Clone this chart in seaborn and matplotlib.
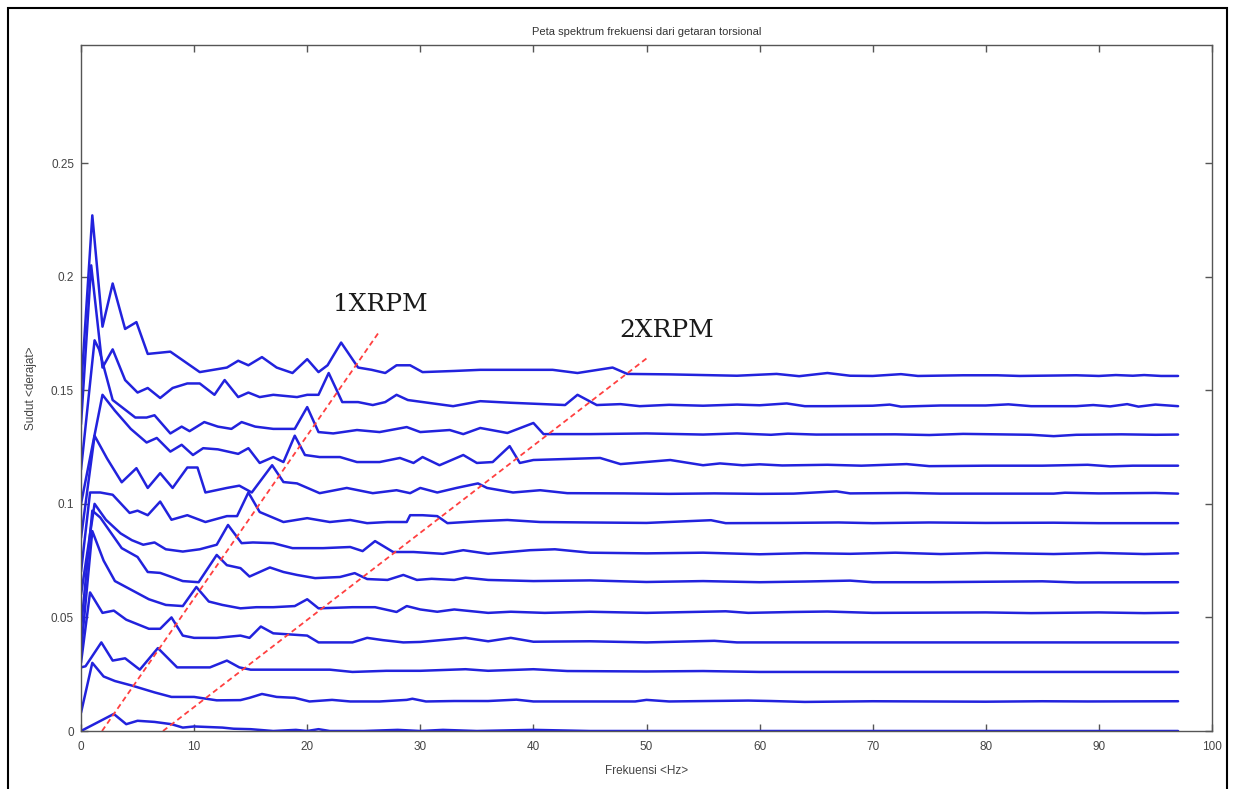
import numpy as np
import pandas as pd
import matplotlib
matplotlib.use("Agg")
import matplotlib.pyplot as plt
from matplotlib.patches import Rectangle
import seaborn as sns

# ---------------- data (frequency in Hz, amplitude in degrees) ----------------
f0 = [0, 2.9, 4.0, 5.0, 6.5, 8.0, 9.0, 10.0, 12.5, 13.5, 15, 17, 19, 20, 21, 22, 25, 28, 30, 32, 35, 40, 45, 97]
a0 = [0, 0.0075, 0.003, 0.0045, 0.004, 0.003, 0.0015, 0.002, 0.0015, 0.001, 0.0008, 0, 0.0005, 0, 0.0008, 0, 0, 0.0005, 0, 0.0005, 0, 0.0005, 0, 0]

f1 = [0, 1.0, 2.0, 3.0, 4.5, 6.5, 8.0, 10.0, 12.0, 14.1, 14.9, 16.0, 17.3, 18.9, 20.2, 22.2, 23.8, 26.4, 28.8, 29.3, 30.5, 33, 36, 38.5, 40, 45, 49, 50, 52, 59, 61, 64, 70, 80, 85, 89, 97]
a1 = [0.008, 0.030, 0.024, 0.022, 0.020, 0.017, 0.015, 0.0150, 0.0135, 0.0136, 0.0146, 0.0163, 0.0150, 0.0146, 0.013, 0.0137, 0.013, 0.013, 0.0137, 0.0142, 0.013, 0.0132, 0.0132, 0.0138, 0.013, 0.013, 0.013, 0.0137, 0.013, 0.0134, 0.0132, 0.0128, 0.0131, 0.0129, 0.0131, 0.013, 0.0131]

f2 = [0, 0.4, 1.8, 2.8, 3.9, 5.2, 6.8, 8.5, 11.4, 12.9, 14.0, 15.0, 22, 24, 27, 30, 34, 36, 40, 43, 50, 55, 60, 97]
a2 = [0.028, 0.0285, 0.039, 0.031, 0.032, 0.027, 0.0365, 0.028, 0.028, 0.031, 0.028, 0.027, 0.027, 0.026, 0.0265, 0.0265, 0.0272, 0.0265, 0.0272, 0.0264, 0.0262, 0.0264, 0.026, 0.026]

f3 = [0, 0.8, 1.9, 2.9, 4.0, 5.0, 6.0, 7.0, 8.0, 9.0, 10.0, 12.0, 14.1, 14.9, 15.9, 17.0, 20.0, 21.0, 24.0, 25.3, 26.7, 28.5, 30, 34, 36, 38, 40, 45, 50, 56, 58, 97]
a3 = [0.030, 0.061, 0.052, 0.053, 0.049, 0.047, 0.045, 0.045, 0.050, 0.042, 0.041, 0.041, 0.042, 0.041, 0.046, 0.043, 0.042, 0.039, 0.039, 0.041, 0.040, 0.039, 0.0392, 0.041, 0.0395, 0.041, 0.0393, 0.0395, 0.039, 0.0397, 0.039, 0.039]

f4 = [0, 1.0, 2.0, 3.0, 4.5, 6.0, 7.5, 9.0, 10.2, 11.3, 12.5, 14.1, 15.5, 17, 18.9, 20.0, 21.0, 24, 26, 27.9, 28.8, 30, 31.5, 33, 36, 38, 41, 45, 50, 57, 59, 63, 66, 70, 80, 84, 90, 94, 97]
a4 = [0.035, 0.088, 0.075, 0.066, 0.062, 0.058, 0.0555, 0.055, 0.0634, 0.057, 0.0555, 0.054, 0.0545, 0.0545, 0.055, 0.058, 0.054, 0.0545, 0.0545, 0.0524, 0.055, 0.0535, 0.0525, 0.0535, 0.052, 0.0525, 0.052, 0.0525, 0.052, 0.0527, 0.052, 0.0524, 0.0526, 0.052, 0.0522, 0.0519, 0.0522, 0.0519, 0.0521]

f5 = [0, 1.0, 1.7, 3.6, 5.0, 5.9, 7.0, 7.9, 9.0, 10.4, 12.0, 12.9, 14.1, 14.9, 16.7, 17.9, 19.1, 20.7, 22.9, 24.2, 25.3, 27.1, 28.5, 29.7, 31, 33, 34, 36, 40, 45, 50, 55, 60, 64, 68, 70, 75, 85, 88, 97]
a5 = [0.045, 0.097, 0.094, 0.0805, 0.0766, 0.070, 0.0696, 0.068, 0.066, 0.0655, 0.0775, 0.073, 0.0717, 0.068, 0.072, 0.070, 0.0687, 0.0673, 0.0678, 0.0695, 0.0669, 0.0665, 0.0687, 0.0665, 0.067, 0.0665, 0.0675, 0.0665, 0.066, 0.0663, 0.0656, 0.066, 0.0655, 0.0658, 0.0662, 0.0655, 0.0655, 0.0659, 0.0654, 0.0655]

f6 = [0, 1.2, 2.2, 3.5, 4.5, 5.5, 6.5, 7.5, 9.0, 10.5, 12.0, 13.0, 14.2, 15.2, 17.0, 18.7, 21.4, 23.8, 24.9, 26.0, 27.6, 29.4, 32, 33.8, 36, 39.7, 41.9, 45, 50, 55, 60, 64, 68, 72, 76, 80, 86, 90, 94, 97]
a6 = [0.060, 0.100, 0.093, 0.087, 0.084, 0.082, 0.083, 0.080, 0.079, 0.080, 0.082, 0.0907, 0.0827, 0.083, 0.0827, 0.0805, 0.0805, 0.081, 0.0792, 0.0836, 0.0788, 0.0788, 0.078, 0.0796, 0.078, 0.0796, 0.0800, 0.0785, 0.0782, 0.0785, 0.0778, 0.0783, 0.078, 0.0785, 0.0779, 0.0784, 0.0779, 0.0784, 0.0779, 0.0782]

f7 = [0, 0.8, 1.7, 2.8, 4.3, 5.0, 5.9, 7.0, 8.0, 9.4, 11.0, 12.9, 13.8, 14.8, 15.8, 17.9, 20.0, 22.0, 23.8, 25.3, 27.1, 28.8, 29.1, 30.2, 31.5, 32.4, 35.3, 37.7, 40.6, 45, 50, 55.7, 57, 62, 67, 70, 75, 80, 86, 90, 97]
a7 = [0.070, 0.105, 0.105, 0.104, 0.096, 0.097, 0.095, 0.101, 0.093, 0.095, 0.092, 0.0946, 0.0946, 0.105, 0.0964, 0.092, 0.0937, 0.092, 0.0929, 0.0915, 0.092, 0.092, 0.095, 0.095, 0.0946, 0.0915, 0.0924, 0.0929, 0.092, 0.0918, 0.0916, 0.0928, 0.0915, 0.0916, 0.0918, 0.0915, 0.0918, 0.0916, 0.0917, 0.0915, 0.0915]

f8 = [0, 1.2, 2.3, 3.6, 4.9, 5.9, 7.0, 8.1, 9.4, 10.3, 11.0, 12.9, 14.0, 15.1, 16.9, 17.9, 19.1, 21.1, 23.5, 25.8, 27.9, 29.1, 30.0, 31.5, 33.2, 35.1, 35.9, 38.2, 40.6, 43, 48, 52, 56, 60, 63, 66.8, 68, 73, 76, 86, 87, 90, 95, 97]
a8 = [0.085, 0.130, 0.120, 0.1095, 0.1157, 0.107, 0.1135, 0.107, 0.116, 0.116, 0.105, 0.107, 0.108, 0.105, 0.117, 0.1096, 0.109, 0.1047, 0.107, 0.1047, 0.106, 0.1047, 0.107, 0.105, 0.107, 0.109, 0.107, 0.105, 0.106, 0.1047, 0.1046, 0.1044, 0.1046, 0.1044, 0.1045, 0.1055, 0.1046, 0.1048, 0.1045, 0.1045, 0.1049, 0.1046, 0.1048, 0.1045]

f9 = [0, 1.9, 3.0, 4.4, 5.8, 6.7, 7.9, 8.9, 9.9, 10.8, 12.1, 13.9, 14.8, 15.8, 17.0, 17.9, 18.9, 19.8, 21.1, 22.9, 24.4, 26.4, 28.2, 29.4, 30.2, 31.7, 33.8, 35.0, 36.4, 37.9, 38.8, 40.0, 45.9, 47.7, 52.1, 55, 56.5, 58.5, 60, 62, 66, 69, 73, 75, 80, 85, 89, 91, 93, 97]
a9 = [0.100, 0.148, 0.141, 0.133, 0.127, 0.129, 0.123, 0.126, 0.1215, 0.1245, 0.124, 0.122, 0.1245, 0.118, 0.1206, 0.1184, 0.130, 0.1215, 0.1206, 0.1206, 0.1184, 0.1184, 0.1202, 0.118, 0.1206, 0.117, 0.1215, 0.118, 0.1184, 0.1254, 0.118, 0.1193, 0.1202, 0.1175, 0.1193, 0.117, 0.1178, 0.117, 0.1174, 0.1169, 0.1172, 0.1168, 0.1175, 0.1166, 0.1168, 0.1168, 0.1172, 0.1165, 0.1168, 0.1168]

f10 = [0, 1.2, 1.6, 2.8, 4.8, 5.8, 6.5, 7.9, 8.9, 9.6, 10.9, 12.1, 13.3, 14.2, 15.4, 17.0, 18.9, 20.0, 21.0, 22.3, 24.4, 26.4, 28.8, 30.0, 32.6, 33.8, 35.3, 37.7, 40.0, 40.9, 45, 50, 55, 58, 61, 62.5, 65, 72, 75, 78, 84, 86, 88, 92, 95, 97]
a10 = [0.115, 0.172, 0.168, 0.1457, 0.138, 0.138, 0.139, 0.131, 0.134, 0.132, 0.136, 0.134, 0.133, 0.136, 0.134, 0.133, 0.133, 0.1426, 0.1316, 0.131, 0.1325, 0.1316, 0.1338, 0.1316, 0.1325, 0.1307, 0.1334, 0.1312, 0.1356, 0.1307, 0.1307, 0.131, 0.1305, 0.131, 0.1304, 0.1309, 0.1305, 0.1306, 0.1303, 0.1308, 0.1304, 0.1298, 0.1304, 0.1306, 0.1304, 0.1305]

f11 = [0, 0.9, 1.9, 2.8, 3.9, 5.0, 5.9, 7.0, 8.1, 9.4, 10.5, 11.8, 12.7, 13.9, 14.8, 15.8, 17.0, 19.1, 20.0, 21.0, 21.9, 23.1, 24.5, 25.8, 26.9, 27.9, 28.9, 32.9, 35.3, 38, 42.8, 43.9, 45.6, 47.7, 49.4, 52, 55, 58, 60, 62.4, 64, 66, 70, 71.5, 72.5, 76, 80, 82, 84, 88, 89.5, 91, 92.5, 93.5, 95, 97]
a11 = [0.135, 0.205, 0.160, 0.168, 0.1545, 0.149, 0.151, 0.1466, 0.151, 0.153, 0.153, 0.148, 0.1545, 0.147, 0.149, 0.147, 0.148, 0.147, 0.148, 0.148, 0.1576, 0.1448, 0.1448, 0.1435, 0.1448, 0.148, 0.1457, 0.143, 0.1452, 0.1445, 0.1435, 0.148, 0.1435, 0.1439, 0.143, 0.1436, 0.1432, 0.1437, 0.1434, 0.1442, 0.143, 0.143, 0.1432, 0.1437, 0.1428, 0.1433, 0.1433, 0.1438, 0.143, 0.143, 0.1435, 0.1429, 0.1439, 0.1428, 0.1437, 0.143]

f12 = [0, 1.0, 1.9, 2.8, 3.9, 4.9, 5.9, 7.9, 10.5, 12.9, 13.9, 14.8, 16.0, 17.3, 18.7, 20.0, 21.0, 21.8, 23.0, 24.5, 25.7, 26.9, 27.9, 29.1, 30.2, 33, 35.3, 38.2, 41.7, 43.9, 47.0, 48.3, 52, 55, 58, 61.5, 63.5, 66, 68, 70, 72.5, 74, 78, 81, 83, 88, 90, 91.5, 93, 94, 95.5, 97]
a12 = [0.150, 0.227, 0.178, 0.197, 0.177, 0.180, 0.166, 0.167, 0.158, 0.160, 0.163, 0.161, 0.1646, 0.160, 0.1576, 0.1637, 0.158, 0.161, 0.171, 0.160, 0.159, 0.1576, 0.161, 0.161, 0.158, 0.1585, 0.159, 0.159, 0.159, 0.1576, 0.160, 0.1572, 0.1570, 0.1567, 0.1564, 0.1572, 0.1562, 0.1576, 0.1564, 0.1563, 0.1571, 0.1563, 0.1566, 0.1566, 0.1563, 0.1566, 0.1563, 0.1567, 0.1564, 0.1567, 0.1563, 0.1563]

freqs = [f0, f1, f2, f3, f4, f5, f6, f7, f8, f9, f10, f11, f12]
amps = [a0, a1, a2, a3, a4, a5, a6, a7, a8, a9, a10, a11, a12]

# order lines (1X and 2X RPM): endpoints in (Hz, deg)
rpm1_f = [1.86, 26.4]
rpm1_a = [0.0, 0.176]
rpm2_f = [7.25, 50.0]
rpm2_a = [0.0, 0.164]

title_txt = "Peta spektrum frekuensi dari getaran torsional"
xlabel_txt = "Frekuensi <Hz>"
ylabel_txt = "Sudut <derajat>"
xticks = [0, 10, 20, 30, 40, 50, 60, 70, 80, 90, 100]
yticks = [0, 0.05, 0.1, 0.15, 0.2, 0.25]
ytick_labels = ["0", "0.05", "0.1", "0.15", "0.2", "0.25"]

# ---------------- build table ----------------
rows = []
for k, (fx, ay) in enumerate(zip(freqs, amps)):
    rows.append(pd.DataFrame({"f": fx, "a": ay, "run": k}))
df = pd.concat(rows, ignore_index=True)

sns.set_theme(style="white")
plt.rcParams["font.family"] = ["Liberation Sans", "DejaVu Sans"]

W, H = 1235, 789
fig = plt.figure(figsize=(W / 100, H / 100), dpi=100)
ax = fig.add_axes([81 / W, 1 - 731 / H, (1212 - 81) / W, (731 - 45) / H])

sns.lineplot(data=df, x="f", y="a", units="run", estimator=None, sort=False,
             color="#2222dd", linewidth=1.8, ax=ax, legend=False)

ax.plot(rpm1_f, rpm1_a, color="#ff4040", lw=1.3, ls=(0, (3, 2)))
ax.plot(rpm2_f, rpm2_a, color="#ff4040", lw=1.3, ls=(0, (3, 2)))

ax.text(22.3, 0.185, "1XRPM", family="DejaVu Serif", fontsize=18, color="#1a1a1a", ha="left", va="baseline")
ax.text(47.6, 0.1734, "2XRPM", family="DejaVu Serif", fontsize=18, color="#1a1a1a", ha="left", va="baseline")

ax.set_xlim(0, 100)
ax.set_ylim(0, 0.302)
ax.set_xticks(xticks)
ax.set_xticklabels([str(t) for t in xticks])
ax.set_yticks(yticks)
ax.set_yticklabels(ytick_labels)
ax.tick_params(direction="in", length=5, width=1, colors="#555555", labelcolor="#444444",
               labelsize=8.5, top=True, right=True, bottom=True, left=True, pad=5)
ax.tick_params(axis="x", pad=7)
for s in ax.spines.values():
    s.set_color("#555555")
    s.set_linewidth(1.0)
    s.set_visible(True)

ax.set_title(title_txt, fontsize=8, color="#333333", pad=7)
ax.set_xlabel(xlabel_txt, fontsize=8.5, color="#444444", labelpad=9)
ax.set_ylabel(ylabel_txt, fontsize=8.5, color="#444444", labelpad=10)

fig.patches.append(Rectangle((8 / W, -10 / H), (1227 - 8) / W, (781 + 10) / H,
                             transform=fig.transFigure, fill=False, edgecolor="black", lw=1.5))

fig.savefig("out.png", dpi=100, facecolor="white")
